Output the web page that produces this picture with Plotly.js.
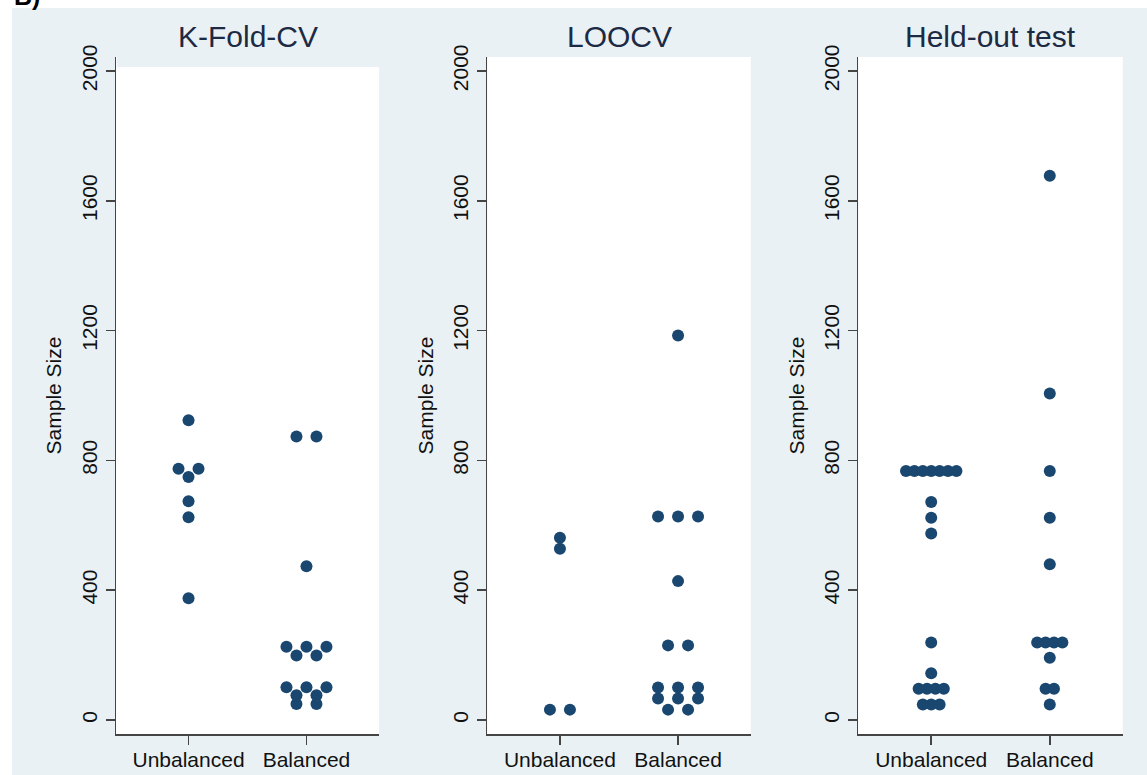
<!DOCTYPE html>
<html>
<head>
<meta charset="utf-8">
<script src="https://cdn.plot.ly/plotly-3.0.1.min.js"></script>
<style>html,body{margin:0;padding:0;background:#fff;}#chart{width:1147px;height:775px;}</style>
</head>
<body>
<div id="chart"></div>
<script>
// ---- data ----
const categories = ["Unbalanced", "Balanced"];
const panelTitles = ["K-Fold-CV", "LOOCV", "Held-out test"];
const yTickValues = [0, 400, 800, 1200, 1600, 2000];
const yAxisTitle = "Sample Size";

const kfoldUnbalanced = [924, 774, 774, 749, 674, 625, 375];
const kfoldBalanced = [874, 874, 474, 226, 226, 226, 199, 199, 101, 101, 101, 76, 76, 49, 49];
const loocvUnbalanced = [562, 528, 32, 32];
const loocvBalanced = [1185, 627, 627, 627, 428, 230, 230, 100, 100, 100, 66, 66, 66, 32, 32];
const heldUnbalanced = [767, 767, 767, 767, 767, 767, 767, 672, 623, 575, 239, 144, 96, 96, 96, 96, 48, 48, 48];
const heldBalanced = [1677, 1006, 767, 623, 480, 239, 239, 239, 239, 192, 96, 96, 48];

// ---- layout geometry (styles) ----
const W = 1147, H = 775;
const panelPx = [[116, 379], [487.3, 750.7], [858.3, 1122.7]];
const plotTopPx = 57, plotBotPx = 734;
const xRange = [0.385, 2.615];
const yRange = [-43.1, 2043.1];
const dotSpacingPx = [20, 20, 8.4];
const markerColor = "#1a476f";
const bgColor = "#eaf1f4";
const axisColor = "#454545";
const fontFam = "Liberation Sans, Arial, sans-serif";

const groups = [[kfoldUnbalanced, kfoldBalanced], [loocvUnbalanced, loocvBalanced], [heldUnbalanced, heldBalanced]];

function dotOffsets(values, spacingUnits) {
  // points sharing a value are spread symmetrically in a row
  const counts = {}, seen = {};
  values.forEach(v => { counts[v] = (counts[v] || 0) + 1; });
  return values.map(v => {
    const i = seen[v] || 0; seen[v] = i + 1;
    return (i - (counts[v] - 1) / 2) * spacingUnits;
  });
}

const traces = [];
const layout = {
  width: W, height: H,
  margin: {l: 0, r: 0, t: 0, b: 0},
  paper_bgcolor: bgColor,
  plot_bgcolor: "#ffffff",
  showlegend: false,
  font: {family: fontFam, color: "#111111"},
  shapes: [
    {type: "rect", xref: "paper", yref: "paper", x0: 0, x1: 1, y0: (H - 8) / H, y1: 1, fillcolor: "#ffffff", line: {width: 0}, layer: "above"},
    {type: "rect", xref: "paper", yref: "paper", x0: 0, x1: 12 / W, y0: 0, y1: 1, fillcolor: "#ffffff", line: {width: 0}, layer: "above"},
    {type: "rect", xref: "paper", yref: "paper", x0: panelPx[0][0] / W + 1 / W, x1: panelPx[0][1] / W, y0: (H - 67) / H, y1: (H - plotTopPx) / H, fillcolor: bgColor, line: {width: 0}, layer: "above"}
  ],
  annotations: [
    {text: "<b>B)</b>", xref: "paper", yref: "paper", x: 12 / W, y: (H - 12) / H, xanchor: "left", yanchor: "bottom",
     showarrow: false, font: {family: fontFam, size: 25, color: "#000000"}}
  ]
};

groups.forEach((pair, p) => {
  const idx = p === 0 ? "" : String(p + 1);
  const xa = "x" + idx, ya = "y" + idx;
  const domPx = panelPx[p][1] - panelPx[p][0];
  const unitsPerPx = (xRange[1] - xRange[0]) / domPx;
  pair.forEach((vals, c) => {
    const offs = dotOffsets(vals, dotSpacingPx[p] * unitsPerPx);
    traces.push({
      type: "scatter", mode: "markers",
      x: vals.map((v, i) => (c + 1) + offs[i]),
      y: vals,
      xaxis: xa, yaxis: ya,
      marker: {color: markerColor, size: 12, line: {width: 0}},
      hoverinfo: "y"
    });
  });
  layout["xaxis" + idx] = {
    domain: [panelPx[p][0] / W, panelPx[p][1] / W],
    range: xRange, anchor: ya,
    tickmode: "array", tickvals: [1, 2], ticktext: categories,
    ticks: "outside", ticklen: 9, tickwidth: 1.5, tickcolor: axisColor,
    showline: true, linecolor: axisColor, linewidth: 1.5,
    showgrid: false, zeroline: false, ticklabelstandoff: -3,
    tickfont: {size: 21, color: "#111111"}
  };
  layout["yaxis" + idx] = {
    domain: [(H - plotBotPx) / H, (H - plotTopPx) / H],
    range: yRange, anchor: xa,
    tickmode: "array", tickvals: yTickValues,
    ticks: "outside", ticklen: 9, tickwidth: 1.5, tickcolor: axisColor,
    showline: true, linecolor: axisColor, linewidth: 1.5,
    showgrid: false, zeroline: false, tickangle: -90,
    tickfont: {size: 21, color: "#111111"},
    title: {text: yAxisTitle, font: {size: 21, color: "#111111"}, standoff: 10}
  };
  layout.annotations.push({
    text: panelTitles[p], xref: "paper", yref: "paper",
    x: (panelPx[p][0] + panelPx[p][1]) / 2 / W, y: (H - 37) / H,
    xanchor: "center", yanchor: "middle", showarrow: false,
    font: {family: fontFam, size: 30, color: "#1c2a44"}
  });
});

Plotly.newPlot("chart", traces, layout, {staticPlot: true});
</script>
</body>
</html>
